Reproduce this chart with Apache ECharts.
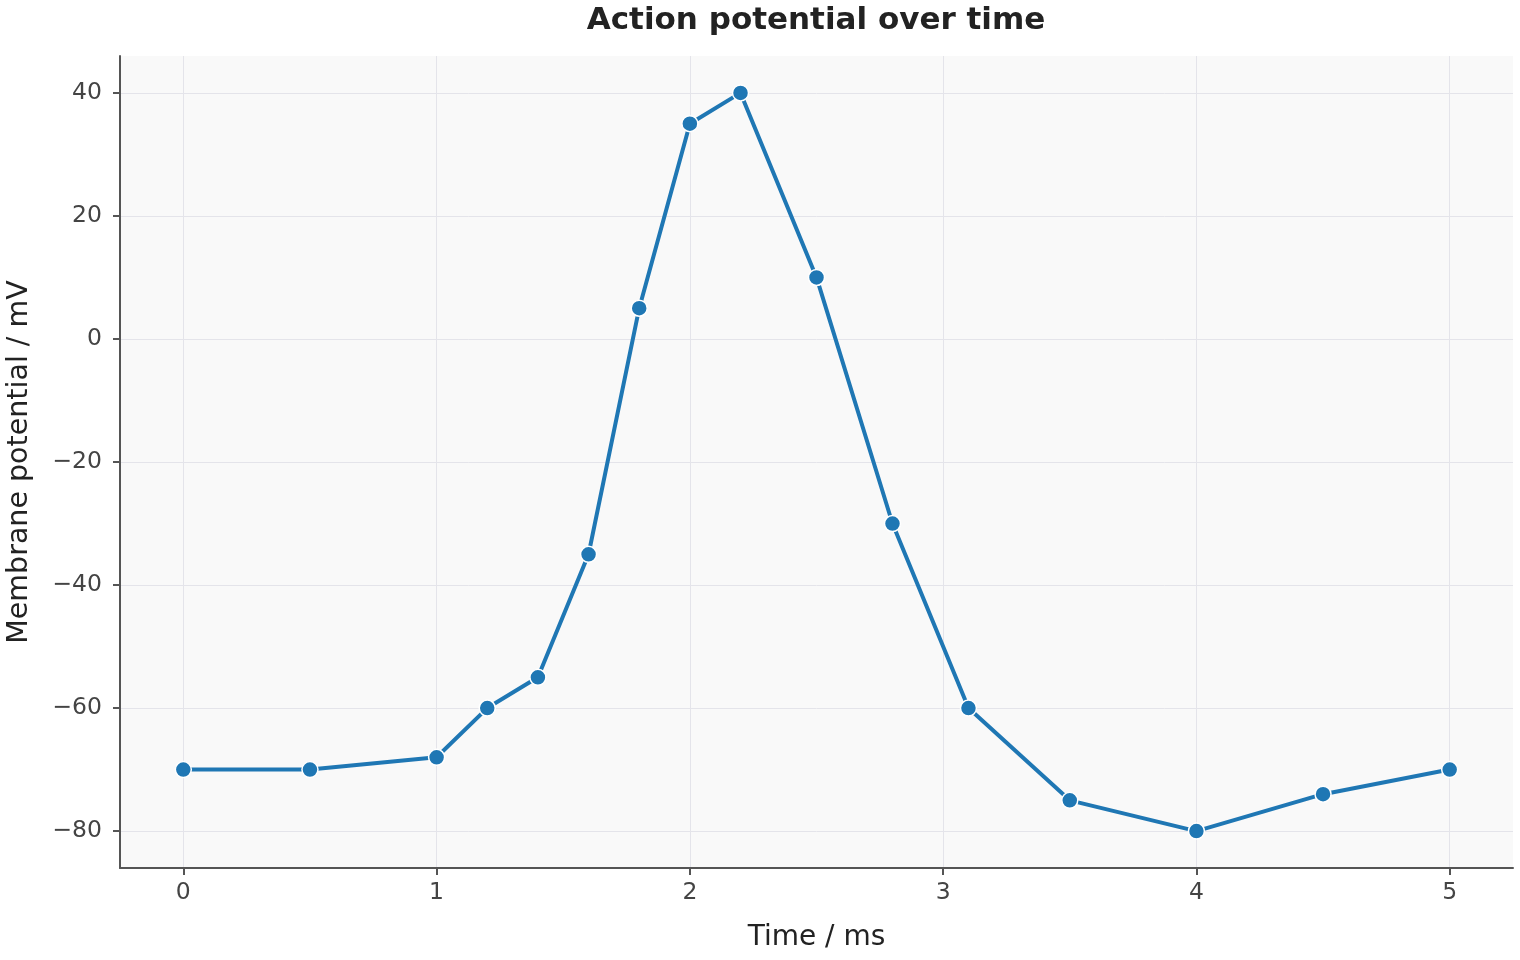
<!DOCTYPE html>
<html>
<head>
<meta charset="utf-8">
<script src="https://cdn.jsdelivr.net/npm/echarts@6/dist/echarts.min.js"></script>
<style>
  html, body { margin: 0; padding: 0; background: #fff; }
  #chart { width: 1520px; height: 960px; }
</style>
</head>
<body>
<div id="chart"></div>
<script>
var timeMs = [0, 0.5, 1, 1.2, 1.4, 1.6, 1.8, 2.0, 2.2, 2.5, 2.8, 3.1, 3.5, 4.0, 4.5, 5.0];
var potentialMv = [-70, -70, -68, -60, -55, -35, 5, 35, 40, 10, -30, -60, -75, -80, -74, -70];
var xTicks = [0, 1, 2, 3, 4, 5];
var yTicks = [-80, -60, -40, -20, 0, 20, 40];

var chart;

function minus(v) {
	return String(v).replace('-', '\u2212');
}

function initChart() {
	chart = echarts.init(document.getElementById('chart'));
	var points = timeMs.map(function(t, i) { return [t, potentialMv[i]]; });
	var font = 'DejaVu Sans';
	var option = {
		animation: false,
		title: {
			text: 'Action potential over time',
			left: 811,
			textAlign: 'center',
			top: 0,
			textStyle: {
				fontFamily: font,
				fontWeight: 'bold',
				fontSize: 31,
				color: '#222'
			}
		},
		grid: {
			left: 120,
			right: 7,
			top: 56,
			bottom: 92,
			outerBoundsMode: 'none',
			containLabel: false,
			show: true,
			backgroundColor: '#f9f9f9',
			borderWidth: 0
		},
		xAxis: {
			type: 'value',
			min: -0.25,
			max: 5.25,
			name: 'Time / ms',
			nameLocation: 'middle',
			nameGap: 56,
			nameTextStyle: { fontFamily: font, fontSize: 28, color: '#222' },
			axisLine: { show: true, onZero: false, lineStyle: { color: '#555', width: 2 } },
			axisTick: { show: true, customValues: xTicks, length: 7, lineStyle: { color: '#555', width: 2 } },
			axisLabel: {
				customValues: xTicks,
				fontFamily: font, fontSize: 23.5, color: '#444', margin: 13,
				formatter: minus
			},
			splitLine: { show: true, lineStyle: { color: '#e4e4ea', width: 1 } }
		},
		yAxis: {
			type: 'value',
			min: -86,
			max: 46,
			name: 'Membrane potential / mV',
			nameLocation: 'middle',
			nameGap: 86,
			nameTextStyle: { fontFamily: font, fontSize: 28.5, color: '#222' },
			axisLine: { show: true, onZero: false, lineStyle: { color: '#555', width: 2 } },
			axisTick: { show: true, customValues: yTicks, length: 7, lineStyle: { color: '#555', width: 2 } },
			axisLabel: {
				customValues: yTicks,
				fontFamily: font, fontSize: 23.5, color: '#444', margin: 18,
				formatter: minus
			},
			splitLine: { show: true, lineStyle: { color: '#e4e4ea', width: 1 } }
		},
		series: [{
			type: 'line',
			data: points,
			symbol: 'circle',
			symbolSize: 16,
			lineStyle: { color: '#1f77b4', width: 4 },
			itemStyle: { color: '#1f77b4', borderColor: '#fff', borderWidth: 1.5 }
		}]
	};
	chart.setOption(option);
}

initChart();
</script>
</body>
</html>
